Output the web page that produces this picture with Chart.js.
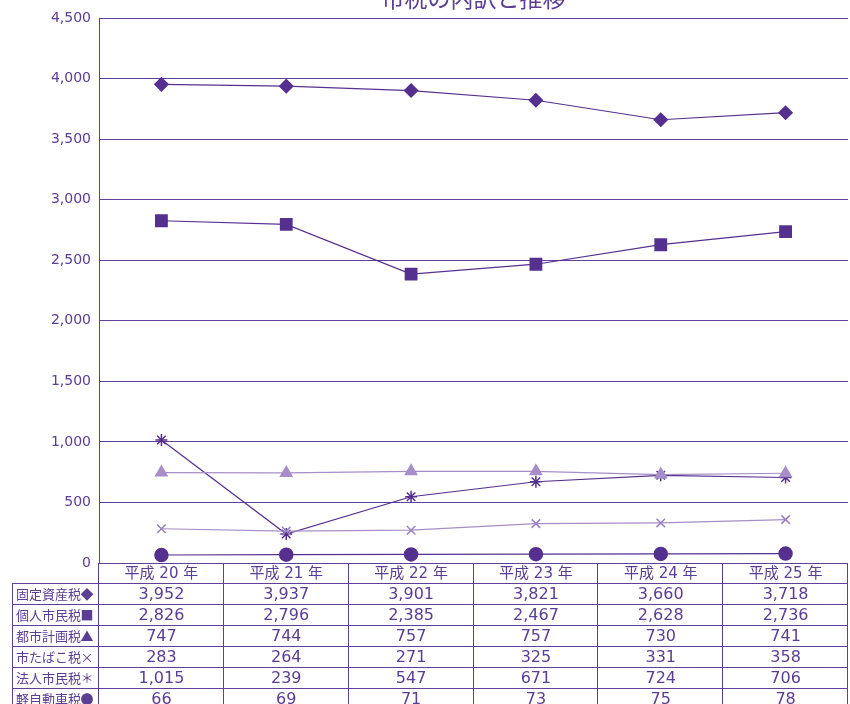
<!DOCTYPE html>
<html>
<head>
<meta charset="utf-8">
<script src="https://cdn.jsdelivr.net/npm/chart.js@4.4.1/dist/chart.umd.min.js"></script>
<style>
  html, body { margin:0; padding:0; background:#fff; }
  #wrap { width:850px; height:704px; position:relative; }
</style>
</head>
<body>
<div id="wrap"><canvas id="c" width="850" height="704"></canvas></div>
<script>
// data
const years = ['平成 20 年', '平成 21 年', '平成 22 年', '平成 23 年', '平成 24 年', '平成 25 年'];
const seriesNames = ['固定資産税', '個人市民税', '都市計画税', '市たばこ税', '法人市民税', '軽自動車税'];
const seriesMarks = ['◆', '■', '▲', '×', '＊', '●'];
const fixedAsset   = [3952, 3937, 3901, 3821, 3660, 3718];
const residentTax  = [2826, 2796, 2385, 2467, 2628, 2736];
const cityPlanning = [747, 744, 757, 757, 730, 741];
const tobaccoTax   = [283, 264, 271, 325, 331, 358];
const corporateTax = [1015, 239, 547, 671, 724, 706];
const lightVehicle = [66, 69, 71, 73, 75, 78];
const yTicks = [0, 500, 1000, 1500, 2000, 2500, 3000, 3500, 4000, 4500];

const DARK = '#56308f';
const LIGHT = '#a68fc8';
const MID = '#9a82bf';
const TEXT = '#5a3d95';
const GRID = '#5e3f99';
const CJK = '"Noto Sans CJK JP", "Noto Sans", sans-serif';
const NUM = '"DejaVu Sans", "Noto Sans CJK JP", sans-serif';

const allSeries = [fixedAsset, residentTax, cityPlanning, tobaccoTax, corporateTax, lightVehicle];

// title + data table drawn under the plot
const tablePlugin = {
  id: 'tablePlugin',
  afterDraw(chart) {
    const ctx = chart.ctx;
    const a = chart.chartArea;
    const xs = chart.scales.x;
    const colW = (a.right - a.left) / years.length;
    const headTop = a.bottom, headH = 20, rowH = 21;
    const leftX = 12;

    ctx.save();
    // title
    ctx.fillStyle = TEXT;
    ctx.font = '23px ' + CJK;
    ctx.textAlign = 'center';
    ctx.textBaseline = 'middle';
    ctx.fillText('市税の内訳と推移', (a.left + a.right) / 2, -2);

    ctx.strokeStyle = GRID;
    ctx.lineWidth = 1;
    const bodyTop = headTop + headH;
    const bottom = bodyTop + rowH * seriesNames.length;
    ctx.beginPath();
    ctx.moveTo(a.left, headTop + 0.5); ctx.lineTo(a.right, headTop + 0.5);
    for (let r = 0; r <= seriesNames.length; r++) {
      const y = Math.round(bodyTop + r * rowH) + 0.5;
      ctx.moveTo(leftX, y); ctx.lineTo(a.right, y);
    }
    ctx.moveTo(leftX + 0.5, bodyTop); ctx.lineTo(leftX + 0.5, bottom);
    for (let i = 0; i <= years.length; i++) {
      const x = Math.round(a.left + i * colW) - 0.5;
      ctx.moveTo(x, headTop); ctx.lineTo(x, bottom);
    }
    ctx.stroke();

    // header
    ctx.fillStyle = TEXT;
    ctx.font = '15px ' + NUM;
    ctx.textAlign = 'center';
    ctx.textBaseline = 'middle';
    years.forEach((y, i) => ctx.fillText(y, xs.getPixelForValue(i), headTop + headH / 2 + 1));

    // rows
    seriesNames.forEach((name, r) => {
      const cy = bodyTop + r * rowH + rowH / 2 + 1;
      ctx.font = '13px ' + CJK;
      ctx.textAlign = 'left';
      ctx.fillText(name, leftX + 4, cy);
      ctx.textAlign = 'center';
      ctx.fillText(seriesMarks[r], a.left - 12, cy);
      ctx.font = '16px ' + NUM;
      allSeries[r].forEach((v, i) => {
        ctx.fillText(v.toLocaleString('en-US'), xs.getPixelForValue(i), cy);
      });
    });
    ctx.restore();
  }
};

function ds(label, data, color, lineColor, style, radius) {
  return {
    label, data,
    borderColor: lineColor, borderWidth: 1.2,
    pointStyle: style, pointRadius: radius, pointHoverRadius: radius,
    pointBackgroundColor: color, pointBorderColor: color, pointBorderWidth: 1.5,
    tension: 0, fill: false
  };
}

new Chart(document.getElementById('c'), {
  type: 'line',
  data: {
    labels: years,
    datasets: [
      ds(seriesNames[0], fixedAsset, DARK, DARK, 'rectRot', 6.5),
      ds(seriesNames[1], residentTax, DARK, DARK, 'rect', 8),
      ds(seriesNames[2], cityPlanning, LIGHT, LIGHT, 'triangle', 6.5),
      ds(seriesNames[3], tobaccoTax, MID, LIGHT, 'crossRot', 6),
      ds(seriesNames[4], corporateTax, DARK, DARK, 'star', 6),
      ds(seriesNames[5], lightVehicle, DARK, DARK, 'circle', 6.5)
    ]
  },
  options: {
    responsive: false,
    animation: false,
    layout: { autoPadding: false, padding: { top: 18, bottom: 141, left: 0, right: 2 } },
    plugins: { legend: { display: false }, tooltip: { enabled: false }, title: { display: false } },
    scales: {
      x: {
        offset: true,
        display: false,
        grid: { display: false }
      },
      y: {
        min: 0, max: 4500,
        afterBuildTicks(scale) { scale.ticks = yTicks.map(v => ({ value: v })); },
        afterFit(scale) { scale.width = 99; },
        border: { display: true, color: GRID, width: 1 },
        grid: { color: GRID, lineWidth: 1, drawTicks: false },
        ticks: {
          color: TEXT, padding: 8,
          font: { family: NUM, size: 14 },
          callback: v => v.toLocaleString('en-US')
        }
      }
    }
  },
  plugins: [tablePlugin]
});
</script>
</body>
</html>
